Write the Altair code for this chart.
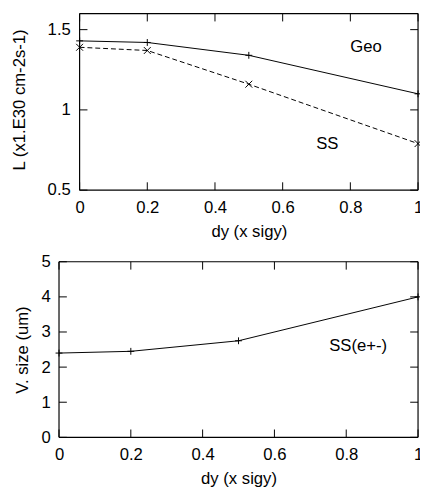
import altair as alt
import pandas as pd

# ---- data ----
dy = [0, 0.2, 0.5, 1]
geo_L = [1.43, 1.42, 1.34, 1.10]
ss_L = [1.39, 1.37, 1.16, 0.79]
vsize = [2.40, 2.45, 2.75, 4.00]

x_domain = [0, 1]
top_y_domain = [0.5, 1.6]
bot_y_domain = [0, 5]
x_ticks = [0, 0.2, 0.4, 0.6, 0.8, 1]
top_y_ticks = [0.5, 1, 1.5]
bot_y_ticks = [0, 1, 2, 3, 4, 5]

top_ytitle = ["L (x1.E30 cm-2s-1)"]
bot_ytitle = "V. size (um)"

top_label_text = ["Geo", "SS"]
top_label_x = [0.846, 0.732]
top_label_y = [1.392, 0.787]

bot_label_text = ["SS(e+-)"]
bot_label_x = [0.833]
bot_label_y = [2.6]

FONT = "Liberation Sans"
FS = 17
PLUS = "M-1,0L1,0M0,-1L0,1"
CROSS = "M-1,-1L1,1M-1,1L1,-1"
TICK = 8
W = 366


def panel(H, inset, yscale_dom, yvals, yaxis_obj, series, labels, extra):
    # the framed plot starts `inset` px inside the view; extend the x domain to the left accordingly
    span = W - inset
    xmin = x_domain[0] - (x_domain[1] - x_domain[0]) * inset / span
    xscale = alt.Scale(domain=[xmin, x_domain[1]], nice=False, zero=False)
    yscale = alt.Scale(domain=yscale_dom, nice=False, zero=False)
    xax_kw = dict(values=x_ticks, format="~g", title="dy (x sigy)", ticks=False, domain=False,
                  grid=False, labelFlush=False, labelPadding=10, titlePadding=8)
    if inset:
        xax_kw["titleX"] = (inset + W) / 2
    xax = alt.Axis(**xax_kw)

    def X(f):
        return alt.X(f, scale=xscale, axis=xax)

    def Y(f):
        return alt.Y(f, scale=yscale, axis=yaxis_obj)

    layers = []
    for df, dash, shape in series:
        line_kw = dict(color="black", strokeWidth=1)
        if dash:
            line_kw["strokeDash"] = dash
        layers.append(alt.Chart(df).mark_line(**line_kw).encode(x=X("dy:Q"), y=Y("val:Q")))
        layers.append(alt.Chart(df).mark_point(shape=shape, size=49, color="black", filled=False,
                                               strokeWidth=1, opacity=1).encode(x=X("dy:Q"), y=Y("val:Q")))
    layers.append(alt.Chart(labels).mark_text(font=FONT, fontSize=FS, color="black", align="center",
                                              baseline="middle").encode(x=X("dy:Q"), y=Y("val:Q"), text="t:N"))

    # inward tick marks on all four sides
    xt = pd.DataFrame({"v": x_ticks})
    yt = pd.DataFrame({"v": yvals})
    rx = alt.Chart(xt).mark_rule(color="black", strokeWidth=1)
    ry = alt.Chart(yt).mark_rule(color="black", strokeWidth=1)
    layers += [
        rx.encode(x=X("v:Q"), y=alt.value(H), y2=alt.value(H - TICK)),
        rx.encode(x=X("v:Q"), y=alt.value(0), y2=alt.value(TICK)),
        ry.encode(y=Y("v:Q"), x=alt.value(inset), x2=alt.value(inset + TICK)),
        ry.encode(y=Y("v:Q"), x=alt.value(W), x2=alt.value(W - TICK)),
    ]
    # frame: vertical sides at the x-domain ends, horizontal sides at the y-domain ends
    fv = pd.DataFrame({"x": x_domain, "y0": [yscale_dom[0]] * 2, "y1": [yscale_dom[1]] * 2})
    fh = pd.DataFrame({"y": yscale_dom, "x0": [x_domain[0]] * 2, "x1": [x_domain[1]] * 2})
    layers += [
        alt.Chart(fv).mark_rule(color="black", strokeWidth=1.2).encode(
            x=X("x:Q"), y=Y("y0:Q"), y2="y1:Q"),
        alt.Chart(fh).mark_rule(color="black", strokeWidth=1.2).encode(
            y=Y("y:Q"), x=X("x0:Q"), x2="x1:Q"),
    ]
    for make in extra:
        layers.append(make(yscale))
    return alt.layer(*layers).properties(width=W, height=H)


# ---- top panel: y labels and title drawn as text next to the inset frame ----
TOP_INSET = 21
TH = 180


def top_ylabels(yscale):
    return alt.Chart(pd.DataFrame({"v": top_y_ticks})).mark_text(
        font=FONT, fontSize=FS, color="black", align="right", baseline="middle").encode(
        y=alt.Y("v:Q", scale=yscale, axis=None), x=alt.value(TOP_INSET - 9),
        text=alt.Text("v:Q", format="~g"))


def top_ytitle_mark(yscale):
    return alt.Chart(pd.DataFrame({"t": top_ytitle})).mark_text(
        font=FONT, fontSize=FS, color="black", align="center", baseline="middle", angle=270).encode(
        x=alt.value(-40), y=alt.value(88), text="t:N")


top = panel(TH, TOP_INSET, top_y_domain, top_y_ticks, None,
            [(pd.DataFrame({"dy": dy, "val": geo_L}), None, PLUS),
             (pd.DataFrame({"dy": dy, "val": ss_L}), [5, 3], CROSS)],
            pd.DataFrame({"t": top_label_text, "dy": top_label_x, "val": top_label_y}),
            [top_ylabels, top_ytitle_mark])

# ---- bottom panel ----
bot_yaxis = alt.Axis(values=bot_y_ticks, format="~g", title=bot_ytitle, ticks=False, domain=False,
                     grid=False, labelPadding=9, titlePadding=10)
bottom = panel(179, 0, bot_y_domain, bot_y_ticks, bot_yaxis,
               [(pd.DataFrame({"dy": dy, "val": vsize}), None, PLUS)],
               pd.DataFrame({"t": bot_label_text, "dy": bot_label_x, "val": bot_label_y}),
               [])

# both panels share width 366, which becomes the whole view's width; padding adds 52 + 2
chart = alt.concat(top, bottom, columns=1, spacing=14, align="none").properties(
    autosize=alt.AutoSizeParams(type="none"),
    padding={"left": 52, "top": 1, "right": 2, "bottom": 482},
    background="white",
).configure_view(stroke="transparent", strokeWidth=0).configure_axis(
    labelFont=FONT, titleFont=FONT, labelFontSize=FS, titleFontSize=FS,
    titleFontWeight="normal", labelColor="black", titleColor="black"
)

chart.save("out.html", embed_options={"renderer": "svg", "actions": False})
